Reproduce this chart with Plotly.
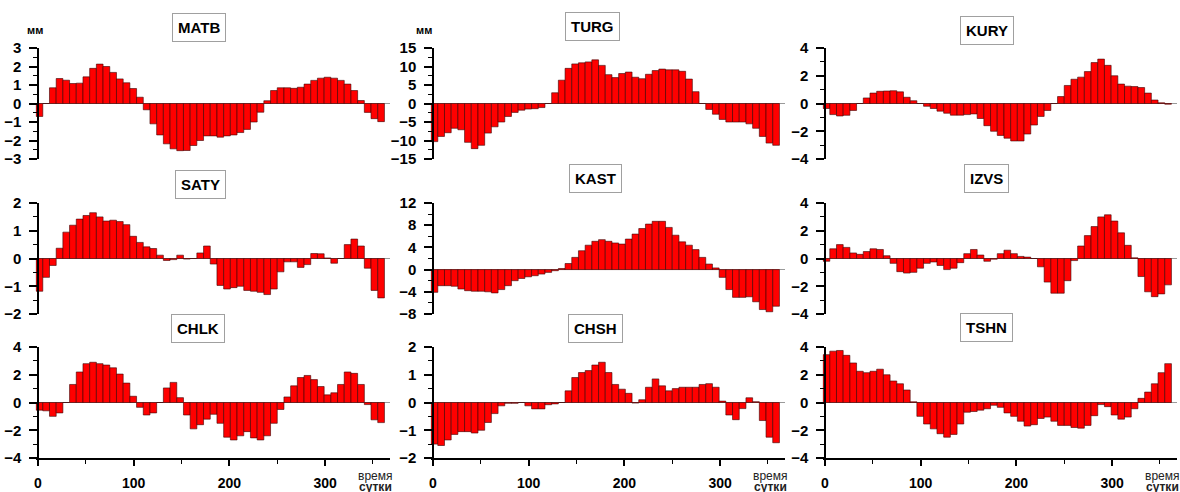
import numpy as np
import plotly.graph_objects as go

# ---------------- data ----------------
stations = ["MATB", "TURG", "KURY", "SATY", "KAST", "IZVS", "CHLK", "CHSH", "TSHN"]
days = np.arange(1.5, 364, 7)  # 52 weekly bins (сутки)

MATB = [-0.7, 0.0, 0.85, 1.35, 1.26, 1.08, 1.1, 1.44, 1.9, 2.13, 2.0, 1.68, 1.33,
        1.12, 0.81, 0.34, -0.34, -1.1, -1.7, -2.18, -2.45, -2.55, -2.54, -2.27,
        -2.0, -1.75, -1.75, -1.82, -1.75, -1.7, -1.57, -1.4, -1.0, -0.47, 0.15,
        0.7, 0.85, 0.85, 0.82, 0.88, 1.05, 1.25, 1.37, 1.42, 1.37, 1.25, 1.05,
        0.7, 0.16, -0.48, -0.82, -0.98]
TURG = [-10.3, -8.9, -7.9, -6.7, -7.1, -10.5, -12.2, -11.3, -8.0, -6.3, -5.0,
        -3.5, -2.4, -1.8, -1.5, -1.4, -1.1, 0.0, 2.9, 6.3, 9.5, 10.7, 11.0, 11.25,
        11.8, 10.3, 7.8, 7.0, 8.1, 8.5, 7.1, 6.7, 7.9, 8.9, 9.3, 9.1, 9.1, 8.7,
        6.6, 3.2, 0.0, -1.6, -2.9, -4.3, -5.0, -5.0, -5.0, -5.5, -6.7, -8.9,
        -10.7, -11.3]
KURY = [-0.36, -0.8, -0.9, -0.85, -0.5, 0.0, 0.4, 0.75, 0.88, 0.9, 0.92, 0.84,
        0.45, 0.2, 0.0, -0.2, -0.36, -0.55, -0.7, -0.84, -0.84, -0.8, -0.75,
        -1.08, -1.6, -2.0, -2.3, -2.5, -2.7, -2.7, -2.2, -1.55, -0.93, -0.5, 0.0,
        0.5, 1.3, 1.75, 1.9, 2.3, 2.95, 3.2, 2.75, 2.0, 1.4, 1.25, 1.22, 1.15,
        0.75, 0.25, 0.05, -0.05]
SATY = [-1.18, -0.68, -0.25, 0.37, 0.95, 1.2, 1.42, 1.55, 1.65, 1.5, 1.35, 1.38,
        1.33, 1.22, 0.8, 0.58, 0.42, 0.36, 0.12, -0.07, -0.04, 0.12, -0.02, 0.0,
        0.2, 0.45, -0.2, -0.97, -1.1, -1.05, -1.0, -1.15, -1.18, -1.22, -1.3,
        -1.1, -0.48, -0.12, -0.12, -0.32, -0.22, 0.18, 0.17, 0.02, -0.17, 0.0,
        0.5, 0.7, 0.45, -0.35, -1.15, -1.42]
KAST = [-4.1, -2.9, -2.9, -3.0, -3.5, -3.8, -3.9, -3.9, -4.0, -4.2, -3.6, -2.9,
        -2.0, -1.6, -1.3, -1.1, -0.8, -0.5, -0.2, 0.2, 1.1, 2.2, 3.4, 4.4, 5.1,
        5.4, 5.1, 4.8, 4.6, 5.5, 6.4, 7.4, 8.2, 8.7, 8.7, 7.6, 6.2, 5.0, 4.4, 3.6,
        2.2, 1.0, 0.3, -1.4, -3.6, -5.0, -5.0, -4.9, -5.8, -7.2, -7.6, -6.6]
IZVS = [-0.2, 0.7, 1.0, 0.8, 0.4, 0.3, 0.5, 0.7, 0.65, 0.2, -0.35, -0.95, -1.05,
        -1.0, -0.7, -0.35, -0.25, -0.5, -0.8, -0.7, -0.3, 0.35, 0.65, 0.25, -0.2,
        -0.05, 0.35, 0.6, 0.35, 0.15, 0.1, 0.0, -0.6, -1.7, -2.5, -2.5, -1.6,
        -0.15, 0.9, 1.65, 2.3, 3.0, 3.15, 2.7, 1.85, 0.95, 0.05, -1.3, -2.4,
        -2.75, -2.55, -1.9]
CHLK = [-0.55, -0.6, -1.0, -0.75, 0.0, 1.3, 2.2, 2.8, 2.9, 2.8, 2.7, 2.5, 2.05,
        1.4, 0.45, -0.35, -0.9, -0.75, 0.0, 1.05, 1.45, 0.35, -0.9, -1.9, -1.6,
        -1.2, -0.85, -1.5, -2.5, -2.7, -2.4, -2.1, -2.55, -2.7, -2.4, -1.5, -0.5,
        0.4, 1.2, 1.8, 1.95, 1.65, 1.15, 0.55, 0.7, 1.3, 2.2, 2.1, 1.3, -0.15,
        -1.25, -1.45]
CHSH = [-1.5, -1.55, -1.35, -1.15, -1.05, -1.05, -1.1, -1.0, -0.72, -0.4, -0.12,
        -0.03, -0.03, 0.0, -0.12, -0.23, -0.23, -0.08, -0.05, 0.0, 0.42, 0.9,
        1.08, 1.15, 1.35, 1.45, 1.08, 0.65, 0.48, 0.33, -0.02, 0.1, 0.55, 0.85,
        0.6, 0.42, 0.5, 0.55, 0.55, 0.55, 0.65, 0.68, 0.55, 0.05, -0.45, -0.62,
        -0.22, 0.17, 0.03, -0.65, -1.25, -1.45]
TSHN = [3.45, 3.7, 3.75, 3.4, 2.85, 2.25, 2.15, 2.25, 2.4, 2.0, 1.55, 1.35, 0.9,
        0.05, -1.0, -1.55, -1.9, -2.25, -2.5, -2.3, -1.55, -0.7, -0.65, -0.55,
        -0.45, -0.2, -0.35, -0.75, -1.0, -1.35, -1.7, -1.6, -1.15, -1.05, -1.35,
        -1.65, -1.65, -1.8, -1.85, -1.65, -0.95, -0.15, -0.3, -0.9, -1.2, -1.05,
        -0.45, 0.3, 0.75, 1.35, 2.15, 2.8]

series = [MATB, TURG, KURY, SATY, KAST, IZVS, CHLK, CHSH, TSHN]

# y-axis: (min, max, major step, minor step)
y_axes = [(-3, 3, 1, 0.5), (-15, 15, 5, 2.5), (-4, 4, 2, 1),
          (-2, 2, 1, 0.5), (-8, 12, 4, 2), (-4, 4, 2, 1),
          (-4, 4, 2, 1), (-2, 2, 1, 0.5), (-4, 4, 2, 1)]
x_ticks = [0, 100, 200, 300]
x_minor = [50, 150, 250, 350]

# ---------------- layout geometry (screen pixels of the 1180x492 window) ----------------
W, H = 1180, 492
XMIN, XMAX = -2.5, 368
PX_PER_DAY = 0.957
col_day0 = [38, 433, 825]
row_px = [(48, 159), (203, 314), (347, 458)]
title_pos = [(199, 27), (592, 26), (987, 30),
             (200, 184), (595, 179), (986, 179),
             (198, 328), (595, 328), (986, 327)]


def px(x):
    return x / W


def py(y):
    return 1 - y / H


FONT = "Liberation Sans, Arial, sans-serif"

fig = go.Figure()
layout = dict(
    template="none",
    width=W, height=H, margin=dict(l=0, r=0, t=0, b=0, pad=0, autoexpand=False),
    paper_bgcolor="white", plot_bgcolor="white", showlegend=False,
    font=dict(family=FONT, color="black"),
)
annotations = []

for k, (name, vals) in enumerate(zip(stations, series)):
    r, c = divmod(k, 3)
    xs = "" if k == 0 else str(k + 1)
    x0px = col_day0[c] + XMIN * PX_PER_DAY
    x1px = col_day0[c] + XMAX * PX_PER_DAY
    ytop, ybot = row_px[r]
    lo, hi, step, mstep = y_axes[k]

    fig.add_trace(go.Bar(
        x=days, y=vals, width=7,
        marker=dict(color="#FF0000", line=dict(color="#3a0000", width=0.6)),
        xaxis="x" + xs, yaxis="y" + xs, hoverinfo="x+y",
    ))

    xa = dict(domain=[px(x0px), min(px(x1px), 1.0)], range=[XMIN, XMAX],
              anchor="y" + xs, showgrid=False, zeroline=False, fixedrange=True,
              automargin=False)
    if r == 2:
        xa.update(showline=True, linecolor="black", linewidth=1.5,
                  ticks="outside", ticklen=6, tickwidth=1.5, tickcolor="black",
                  tickvals=x_ticks, ticktext=[str(v) for v in x_ticks],
                  ticklabelstandoff=5,
                  tickfont=dict(family=FONT, size=14, color="black", weight="bold"),
                  minor=dict(ticks="outside", ticklen=4, tickwidth=1.2,
                             tickcolor="black", tickvals=x_minor))
    else:
        xa.update(showline=False, ticks="", showticklabels=False)
    layout["xaxis" + xs] = xa

    ya = dict(domain=[py(ybot), py(ytop)], range=[lo, hi],
              anchor="free", position=px(col_day0[c]), automargin=False,
              showline=True, linecolor="black", linewidth=1.5,
              ticks="outside", ticklen=8, tickwidth=1.5, tickcolor="black",
              tick0=lo, dtick=step, ticklabelstandoff=5,
              tickfont=dict(family=FONT, size=15, color="black", weight="bold"),
              minor=dict(ticks="outside", ticklen=4, tickwidth=1.2,
                         tickcolor="black", tick0=lo, dtick=mstep),
              showgrid=False, zeroline=True, zerolinecolor="#9a9a9a",
              zerolinewidth=1, fixedrange=True)
    layout["yaxis" + xs] = ya

    tx, ty = title_pos[k]
    annotations.append(dict(
        text="<b>%s</b>" % name, x=px(tx), y=py(ty), xref="paper", yref="paper",
        xanchor="center", yanchor="middle", showarrow=False,
        font=dict(family=FONT, size=15, color="black"),
        bordercolor="#a0a0a0", borderwidth=1, borderpad=5, bgcolor="white"))

    if r == 2:
        cx = col_day0[c] + 337
        annotations.append(dict(text="время", x=px(cx), y=py(475.5), xref="paper",
                                yref="paper", xanchor="center", yanchor="middle",
                                showarrow=False,
                                font=dict(family=FONT, size=12, color="#222")))
        annotations.append(dict(text="сутки", x=px(cx), y=py(486.5), xref="paper",
                                yref="paper", xanchor="center", yanchor="middle",
                                showarrow=False,
                                font=dict(family=FONT, size=12, color="#222", weight="bold")))

for cx in (35, 424):
    annotations.append(dict(text="<b>мм</b>", x=px(cx), y=py(30), xref="paper",
                            yref="paper", xanchor="center", yanchor="middle",
                            showarrow=False, font=dict(family=FONT, size=11, color="black")))

layout["annotations"] = annotations
fig.update_layout(**layout)
fig.write_html("out.html",
               config={"displayModeBar": False},
               post_script="document.body.style.margin='0';"
                           "document.body.style.overflow='hidden';")
